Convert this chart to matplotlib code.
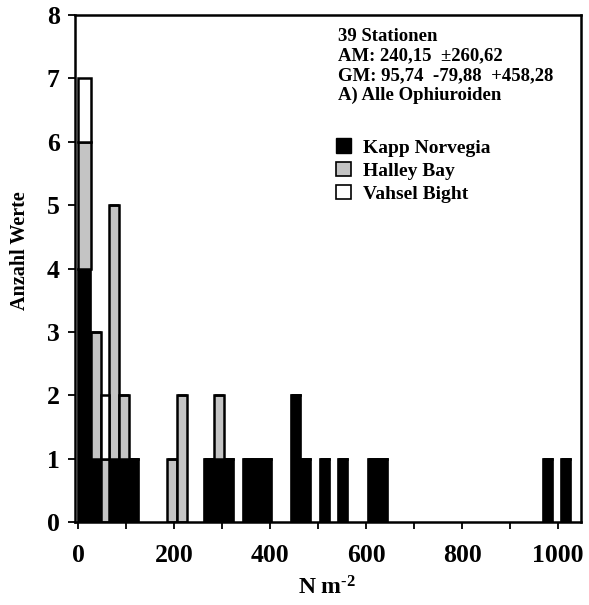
import matplotlib
matplotlib.use('Agg')
import matplotlib.pyplot as plt
from matplotlib.patches import Patch
from matplotlib.ticker import MultipleLocator

plt.rcParams['font.family'] = ['Liberation Serif', 'DejaVu Serif']
plt.rcParams['font.weight'] = 'bold'
plt.rcParams['mathtext.fontset'] = 'custom'
plt.rcParams['mathtext.rm'] = 'Liberation Serif:bold'
plt.rcParams['mathtext.bf'] = 'Liberation Serif:bold'
plt.rcParams['mathtext.it'] = 'Liberation Serif:bold'
plt.rcParams['axes.unicode_minus'] = False

# bin left edges (N m^-2) and counts per region
bin_left = [0, 27, 47, 63, 84, 105, 185, 205, 261, 282, 304,
            343, 363, 383, 443, 464, 503, 542, 603, 625, 968, 1007]
kapp    = [4, 1, 0, 1, 1, 1, 0, 0, 1, 1, 1, 1, 1, 1, 2, 1, 1, 1, 1, 1, 1, 1]
halley  = [2, 2, 1, 4, 1, 0, 1, 2, 0, 1, 0, 0, 0, 0, 0, 0, 0, 0, 0, 0, 0, 0]
vahsel  = [1, 0, 1, 0, 0, 0, 0, 0, 0, 0, 0, 0, 0, 0, 0, 0, 0, 0, 0, 0, 0, 0]

info = ["39 Stationen",
        "AM: 240,15  \u00b1260,62",
        "GM: 95,74  -79,88  +458,28",
        "A) Alle Ophiuroiden"]

widths = [27, 20, 16] + [21] * (len(bin_left) - 3)
gray = '#c4c4c4'

fig = plt.figure(figsize=(5.89, 6.05), dpi=100)
ax = fig.add_axes([0.1273, 0.1372, 0.8591, 0.8378])

bottom2 = [k for k in kapp]
bottom3 = [k + h for k, h in zip(kapp, halley)]
ax.bar(bin_left, kapp, width=widths, align='edge', color='black',
       edgecolor='black', linewidth=1.2)
ax.bar(bin_left, halley, width=widths, bottom=bottom2, align='edge',
       color=gray, edgecolor='black', linewidth=1.8)
ax.bar(bin_left, vahsel, width=widths, bottom=bottom3, align='edge',
       color='white', edgecolor='black', linewidth=1.8)

ax.set_xlim(-7, 1048)
ax.set_ylim(0, 8)
ax.xaxis.set_major_locator(MultipleLocator(200))
ax.xaxis.set_minor_locator(MultipleLocator(100))
ax.yaxis.set_major_locator(MultipleLocator(1))
for s in ax.spines.values():
    s.set_linewidth(1.8)
ax.tick_params(which='both', direction='out', length=5, width=1.3,
               labelsize=18.5, top=False, right=False)
ax.tick_params(axis='x', pad=11)
ax.tick_params(axis='y', pad=6)

ax.set_xlabel("N m$^{\u2010 2}$", fontsize=17, fontweight='bold')
ax.xaxis.set_label_coords(0.498, -0.108)
ax.set_ylabel("Anzahl Werte", fontsize=14.5, fontweight='bold')
ax.yaxis.set_label_coords(-0.089, 0.536)

ax.text(0.52, 0.975, "\n".join(info), transform=ax.transAxes, fontsize=13.5,
        fontweight='bold', va='top', ha='left', linespacing=1.2)

handles = [Patch(facecolor='black', edgecolor='black'),
           Patch(facecolor=gray, edgecolor='black', linewidth=1.2),
           Patch(facecolor='white', edgecolor='black', linewidth=1.2)]
ax.legend(handles, ["Kapp Norvegia", "Halley Bay", "Vahsel Bight"],
          loc='upper left', bbox_to_anchor=(0.5, 0.772), frameon=False,
          fontsize=14, handlelength=0.8, handleheight=0.8, handletextpad=0.6,
          labelspacing=0.25, borderaxespad=0)

fig.savefig('out.png', dpi=100)
